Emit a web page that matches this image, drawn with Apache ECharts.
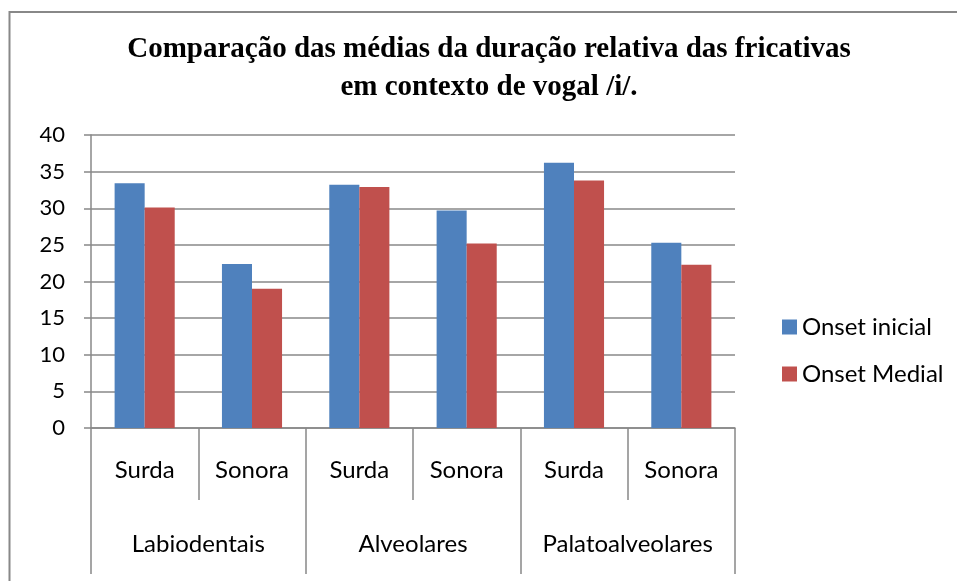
<!DOCTYPE html>
<html><head><meta charset="utf-8">
<script src="https://cdn.jsdelivr.net/npm/echarts@6/dist/echarts.min.js"></script>
<style>html,body{margin:0;padding:0;background:#fff}#c{width:957px;height:581px}</style>
</head><body><div id="c"></div>
<script>
var subCategories = ['Surda','Sonora','Surda','Sonora','Surda','Sonora'];
var groupCategories = ['Labiodentais','Alveolares','Palatoalveolares'];
var onsetInicial = [33.4, 22.4, 33.2, 29.7, 36.2, 25.3];
var onsetMedial = [30.1, 19.0, 32.9, 25.2, 33.8, 22.3];
var seriesNames = ['Onset inicial','Onset Medial'];
var titleText = 'Comparação das médias da duração relativa das fricativas\nem contexto de vogal /i/.';

var FONT = 'Lato';
var chart = echarts.init(document.getElementById('c'), null, {renderer:'canvas'});
chart.setOption({
  animation:false,
  backgroundColor:'#fff',
  title:{text:titleText,left:489,top:31,textAlign:'center',padding:0,
    textStyle:{fontFamily:'Liberation Serif',fontWeight:'bold',fontSize:29,lineHeight:38,color:'#000'}},
  legend:{orient:'vertical',left:777,top:310,itemWidth:15,itemHeight:15,itemGap:23,icon:'rect',
    textStyle:{fontFamily:FONT,fontSize:24,color:'#000'},data:seriesNames},
  grid:{left:91,right:222,top:135,bottom:153,containLabel:false},
  xAxis:[{type:'category',data:subCategories,position:'bottom',
      axisLine:{lineStyle:{color:'#888',width:1.5}},
      axisTick:{show:true,interval:0,alignWithLabel:false,length:72,lineStyle:{color:'#888',width:1.5}},
      axisLabel:{interval:0,margin:30,fontFamily:FONT,fontSize:24,color:'#000'}},
    {type:'category',data:groupCategories,position:'bottom',
      axisLine:{show:false},
      axisTick:{show:true,interval:0,alignWithLabel:false,length:146,lineStyle:{color:'#888',width:1.5}},
      axisLabel:{interval:0,margin:104,fontFamily:FONT,fontSize:24,color:'#000'}}],
  yAxis:{type:'value',min:0,max:40,interval:5,
    axisLine:{show:true,lineStyle:{color:'#888',width:1.5}},
    axisTick:{show:true,length:7,lineStyle:{color:'#888',width:1.5}},
    axisLabel:{margin:26,fontFamily:FONT,fontSize:22,color:'#000'},
    splitLine:{lineStyle:{color:'#888',width:1.5}}},
  series:[
    {name:seriesNames[0],type:'bar',data:onsetInicial,xAxisIndex:0,barGap:'0%',barCategoryGap:'44%',itemStyle:{color:'#4F81BD'}},
    {name:seriesNames[1],type:'bar',data:onsetMedial,xAxisIndex:0,barGap:'0%',barCategoryGap:'44%',itemStyle:{color:'#C0504D'}}
  ],
  graphic:[{type:'rect',shape:{x:9.5,y:12,width:1000,height:1000},style:{fill:null,stroke:'#888',lineWidth:2},silent:true}]
});
</script></body></html>
